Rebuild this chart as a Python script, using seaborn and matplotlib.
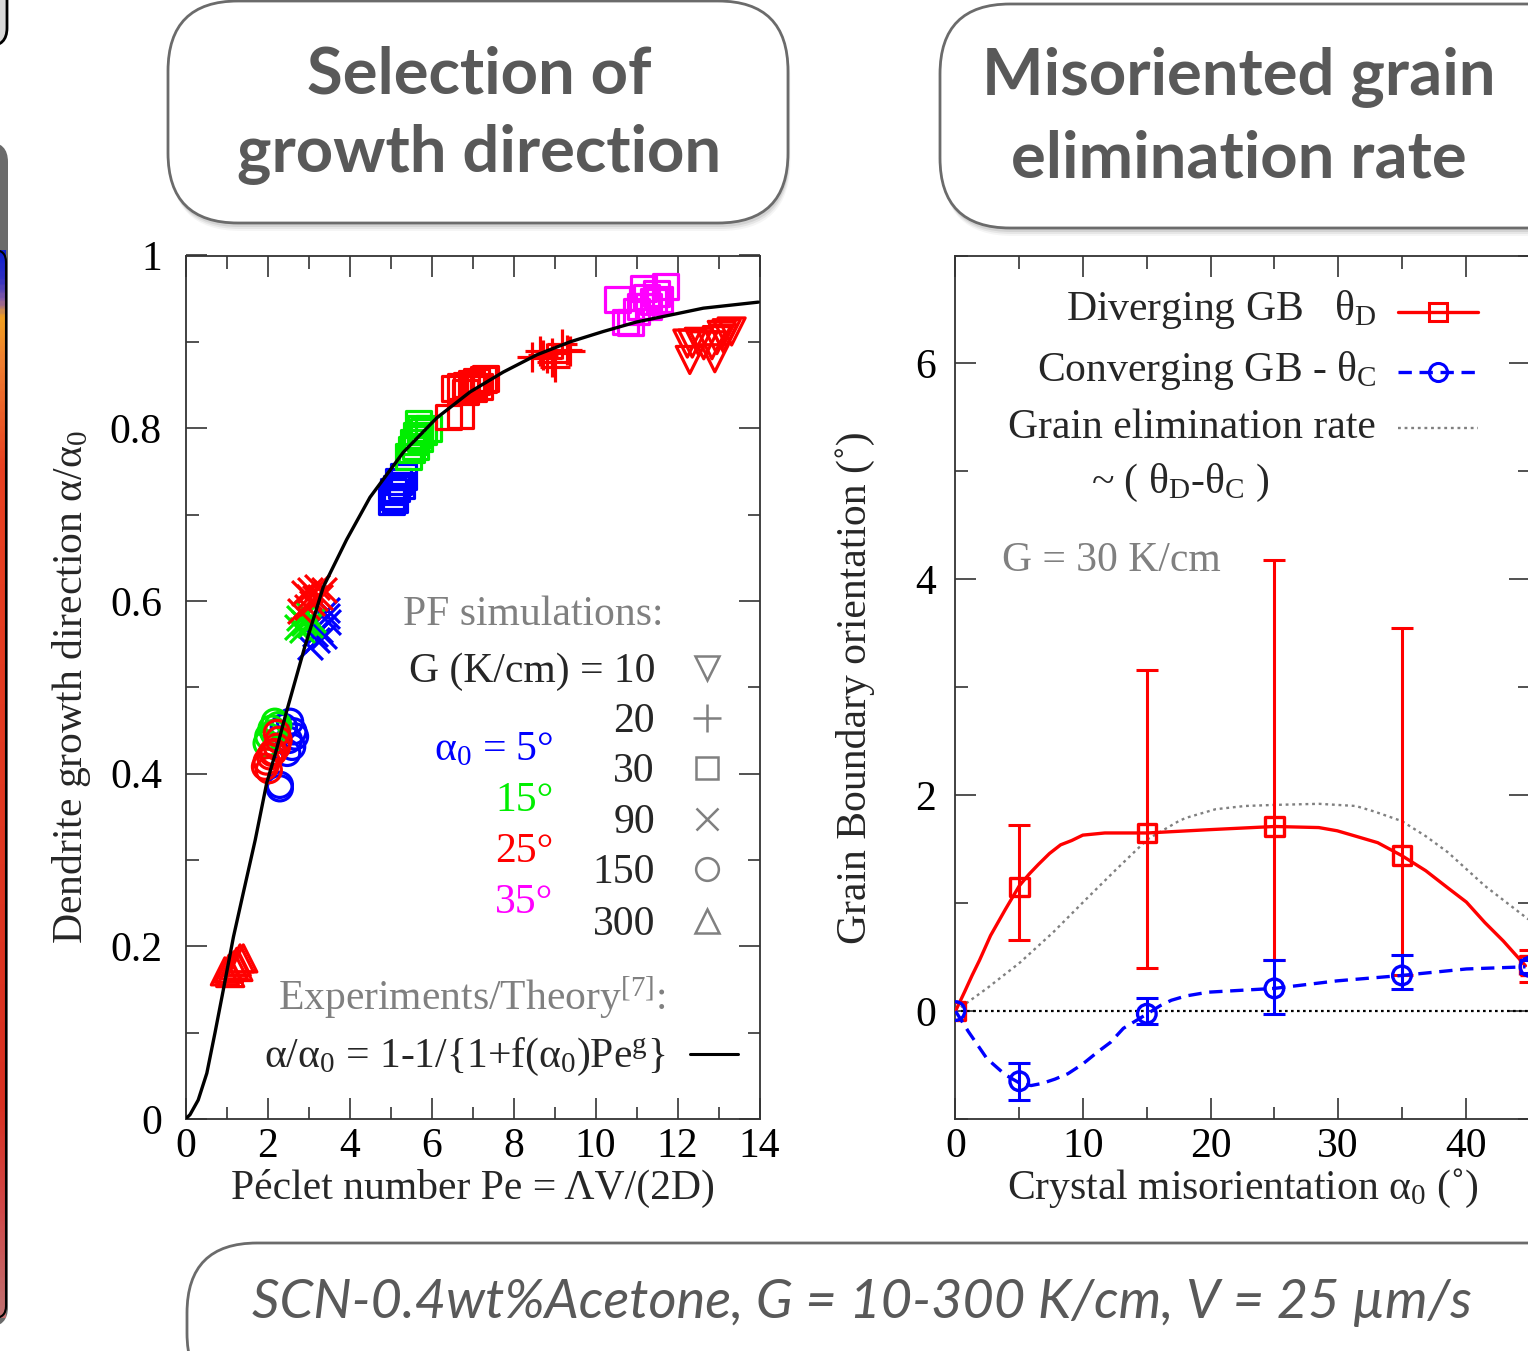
import matplotlib
matplotlib.use("Agg")
import numpy as np
import pandas as pd
import matplotlib.pyplot as plt
import seaborn as sns
from matplotlib.patches import FancyBboxPatch
from matplotlib.ticker import MultipleLocator, FuncFormatter
from matplotlib.colors import LinearSegmentedColormap

sns.set_theme(style="ticks")
plt.rcParams['font.family'] = ['Liberation Serif', 'DejaVu Serif']
plt.rcParams['mathtext.fontset'] = 'custom'
plt.rcParams['mathtext.rm'] = 'Liberation Serif'
plt.rcParams['mathtext.it'] = 'Liberation Serif:italic'
plt.rcParams['mathtext.bf'] = 'Liberation Serif:bold'
plt.rcParams['axes.unicode_minus'] = False

# ---- left panel: PF simulations, Pe vs alpha/alpha0 (one pair of lists per G / alpha0)
pe_300_25 = [1.06, 1.18, 1.25, 1.33, 1.41, 1.09, 0.96, 1.29]
r_300_25 = [0.174, 0.178, 0.182, 0.186, 0.186, 0.169, 0.171, 0.176]
pe_150_5 = [2.30, 2.30, 2.55, 2.63, 2.60, 2.48, 2.67, 2.40, 2.52]
r_150_5 = [0.387, 0.383, 0.460, 0.449, 0.431, 0.424, 0.443, 0.454, 0.439]
pe_150_15 = [2.18, 2.10, 2.02, 1.98, 2.26, 2.15]
r_150_15 = [0.460, 0.452, 0.443, 0.435, 0.456, 0.447]
pe_150_25 = [1.94, 1.98, 2.06, 2.15, 2.23, 2.27, 2.23, 2.03, 2.11]
r_150_25 = [0.408, 0.414, 0.420, 0.425, 0.431, 0.439, 0.447, 0.404, 0.424]
pe_90_5 = [3.44, 3.48, 3.28, 3.20, 3.04, 3.37, 3.16, 3.44]
r_90_5 = [0.589, 0.576, 0.566, 0.555, 0.547, 0.559, 0.562, 0.582]
pe_90_15 = [2.76, 2.89, 2.84, 3.04, 2.96, 2.71, 3.12]
r_90_15 = [0.580, 0.574, 0.566, 0.572, 0.586, 0.570, 0.578]
pe_90_25 = [2.89, 3.04, 3.20, 3.28, 3.08, 2.96, 2.79, 3.37, 3.16, 3.01]
r_90_25 = [0.609, 0.613, 0.616, 0.605, 0.597, 0.593, 0.588, 0.613, 0.603, 0.605]
pe_30_5 = [5.02, 5.04, 5.07, 5.15, 5.27, 5.31, 5.19, 5.11]
r_30_5 = [0.715, 0.721, 0.727, 0.730, 0.734, 0.744, 0.738, 0.717]
pe_30_15 = [5.69, 5.72, 5.64, 5.56, 5.52, 5.44, 5.80, 5.93, 5.60, 5.72]
r_30_15 = [0.806, 0.800, 0.792, 0.784, 0.775, 0.767, 0.796, 0.800, 0.779, 0.788]
pe_30_25 = [6.42, 6.70, 6.70, 6.86, 6.98, 7.10, 7.27, 7.31, 6.82, 7.02, 7.18, 6.57]
r_30_25 = [0.813, 0.815, 0.848, 0.850, 0.852, 0.854, 0.856, 0.858, 0.842, 0.846, 0.848, 0.846]
pe_30_35 = [10.53, 10.73, 10.85, 11.09, 11.17, 11.25, 11.41, 11.49, 11.70, 11.57, 11.30, 11.01]
r_30_35 = [0.949, 0.923, 0.922, 0.941, 0.962, 0.952, 0.947, 0.956, 0.964, 0.949, 0.941, 0.935]
pe_20_25 = [8.45, 8.65, 8.81, 8.94, 9.01, 9.18, 9.30, 9.38, 8.73, 8.94]
r_20_25 = [0.883, 0.889, 0.881, 0.877, 0.871, 0.898, 0.891, 0.889, 0.885, 0.887]
pe_10_25 = [12.30, 12.36, 12.52, 12.64, 12.91, 12.96, 13.08, 13.20, 13.32, 12.84, 12.24, 13.12]
r_10_25 = [0.879, 0.898, 0.900, 0.896, 0.881, 0.902, 0.908, 0.910, 0.912, 0.896, 0.898, 0.904]

# theory curve
theory_pe = [0, 0.11, 0.31, 0.52, 0.72, 0.92, 1.17, 1.41, 1.70, 1.98, 2.22, 2.43, 2.91, 3.36,
             3.93, 4.50, 5.31, 6.13, 6.94, 7.75, 8.57, 9.38, 10.19, 11.0, 11.82, 12.63, 13.97]
theory_ratio = [0, 0.005, 0.022, 0.053, 0.10, 0.149, 0.211, 0.262, 0.323, 0.389, 0.428, 0.466, 0.547, 0.616,
                0.671, 0.720, 0.772, 0.812, 0.842, 0.865, 0.885, 0.900, 0.912, 0.923, 0.931, 0.939, 0.946]

g_levels = [10, 20, 30, 90, 150, 300]
g_markers = {10: 'v', 20: '+', 30: 's', 90: 'x', 150: 'o', 300: '^'}
g_sizes = {10: 380, 20: 480, 30: 320, 90: 320, 150: 330, 300: 380}
alpha_levels = [5, 15, 25, 35]
alpha_colors = {5: '#0000ff', 15: '#00ee00', 25: '#ff0000', 35: '#ff00ff'}

# ---- right panel: grain boundary orientation vs misorientation (G = 30 K/cm)
misorientation = [0, 5, 15, 25, 35, 45]
theta_d = [0, 1.15, 1.65, 1.71, 1.44, 0.42]
theta_d_low = [0, 0.66, 0.40, 0.47, 0.33, 0.27]
theta_d_high = [0, 1.72, 3.16, 4.18, 3.55, 0.57]
theta_c = [0, -0.65, -0.025, 0.21, 0.33, 0.41]
theta_c_low = [0, -0.82, -0.12, -0.03, 0.20, 0.35]
theta_c_high = [0, -0.48, 0.12, 0.47, 0.52, 0.47]

# smoothed curves
curve_d_x = [0, 0.72, 1.30, 1.88, 2.75, 3.90, 5.0, 5.78, 6.51, 7.37, 8.24, 9.11, 9.98, 11.71, 13.2, 15.04,
             19.81, 25.01, 28.48, 29.93, 31.38, 33.1, 34.99, 36.87, 38.61, 40.05, 41.50, 42.94, 44.68]
curve_d_y = [0, 0.18, 0.33, 0.47, 0.70, 0.94, 1.16, 1.27, 1.36, 1.46, 1.54, 1.58, 1.63, 1.65, 1.65, 1.65,
             1.68, 1.71, 1.70, 1.67, 1.62, 1.56, 1.44, 1.30, 1.14, 1.01, 0.82, 0.65, 0.42]
curve_c_x = [0, 1.01, 2.46, 3.61, 3.90, 5.06, 5.93, 6.80, 7.81, 8.82, 9.98, 11.13, 12.15, 13.16, 14.0, 15.04,
             16.05, 16.92, 18.07, 19.81, 25.01, 29.93, 34.99, 40.05, 44.68]
curve_c_y = [0, -0.19, -0.44, -0.56, -0.59, -0.67, -0.69, -0.67, -0.63, -0.58, -0.49, -0.38, -0.29, -0.16, -0.10,
             -0.025, 0.05, 0.10, 0.14, 0.175, 0.21, 0.28, 0.33, 0.39, 0.41]
rate_x = [0, 2.46, 5.06, 7.66, 10.27, 12.58, 15.04, 17.50, 18.07, 20.39, 22.7, 25.01, 28.48, 31.38, 32.8,
          34.99, 36.87, 38.61, 41.50, 44.91]
rate_y = [0, 0.21, 0.45, 0.73, 1.04, 1.31, 1.59, 1.76, 1.79, 1.87, 1.90, 1.91, 1.92, 1.90, 1.85,
          1.76, 1.62, 1.47, 1.16, 0.85]

groups = [(pe_300_25, r_300_25, 300, 25), (pe_150_5, r_150_5, 150, 5), (pe_150_15, r_150_15, 150, 15),
          (pe_150_25, r_150_25, 150, 25), (pe_90_5, r_90_5, 90, 5), (pe_90_15, r_90_15, 90, 15),
          (pe_90_25, r_90_25, 90, 25), (pe_30_5, r_30_5, 30, 5), (pe_30_15, r_30_15, 30, 15),
          (pe_30_25, r_30_25, 30, 25), (pe_30_35, r_30_35, 30, 35), (pe_20_25, r_20_25, 20, 25),
          (pe_10_25, r_10_25, 10, 25)]
df = pd.concat([pd.DataFrame({'Pe': p, 'ratio': r, 'G': g, 'alpha0': a}) for p, r, g, a in groups],
               ignore_index=True)

W, H = 1528, 1351
fig = plt.figure(figsize=(W / 100, H / 100), dpi=100)

# background layer in pixel coordinates for the poster boxes
bg = fig.add_axes([0, 0, 1, 1], zorder=0)
bg.set_xlim(0, W)
bg.set_ylim(H, 0)
bg.axis('off')


def poster_box(x, y, w, h, r=70):
    style = f"round,pad=0,rounding_size={r}"
    for k, a in [(8, 0.04), (6, 0.06), (4, 0.08)]:
        bg.add_patch(FancyBboxPatch((x + k * 0.3, y + k), w, h, boxstyle=style, fc='black', ec='none', alpha=a))
    bg.add_patch(FancyBboxPatch((x, y), w, h, boxstyle=style, fc='white', ec='#6b6b6b', lw=2))


poster_box(168, 1, 620, 222)
poster_box(940, 4, 660, 224)
poster_box(187, 1243, 1420, 160)

title_kw = dict(ha='center', va='baseline', fontsize=47, family=['Lato', 'DejaVu Sans'],
                weight='bold', color='#595959')
bg.text(479, 93, "Selection of", **title_kw)
bg.text(479, 172, "growth direction", **title_kw)
bg.text(1239, 95, "Misoriented grain", **title_kw)
bg.text(1239, 177, "elimination rate", **title_kw)
bg.text(862, 1318, "SCN-0.4wt%Acetone, G = 10-300 K/cm, V = 25 µm/s", ha='center', va='baseline',
        fontsize=39, family=['Lato', 'DejaVu Sans'], style='italic', color='#595959')

# strip of a neighbouring panel at the left edge
bg.add_patch(FancyBboxPatch((-60, -60), 67, 106, boxstyle="round,pad=0,rounding_size=18",
                            fc='#d9d9d9', ec='black', lw=2))
bg.add_patch(FancyBboxPatch((-60, 142), 68, 1185, boxstyle="round,pad=0,rounding_size=20",
                            fc='#6b6b6b', ec='none'))
strip_cmap = LinearSegmentedColormap.from_list(
    'strip', [(0, '#1020d0'), (0.025, '#3030c0'), (0.045, '#9060a0'), (0.06, '#f0a020'), (0.1, '#f08030'),
              (0.2, '#e84020'), (0.8, '#d83020'), (0.9, '#d04848'), (1.0, '#c07070')])
bg.imshow(np.linspace(0, 1, 400).reshape(-1, 1), cmap=strip_cmap, aspect='auto',
          extent=[-2, 6, 1318, 250], zorder=2)
bg.add_patch(FancyBboxPatch((-60, 250), 66, 1068, boxstyle="round,pad=0,rounding_size=12",
                            fc='none', ec='black', lw=1.5, zorder=3))

ax1 = fig.add_axes([185.5 / W, 1 - 1119 / H, 574 / W, 863.5 / H], zorder=2)
ax2 = fig.add_axes([955.5 / W, 1 - 1119 / H, 574 / W, 863.5 / H], zorder=2)

fmt = FuncFormatter(lambda v, p: f'{v:g}')
for ax in (ax1, ax2):
    ax.set_facecolor('white')
    for s in ax.spines.values():
        s.set_color('#333333')
        s.set_linewidth(1.3)
    ax.tick_params(which='both', direction='in', top=True, right=True, color='#333333',
                   width=1.2, labelsize=30, labelcolor='black')
    ax.tick_params(which='major', length=15)
    ax.tick_params(which='minor', length=9)
    ax.xaxis.set_major_formatter(fmt)
    ax.yaxis.set_major_formatter(fmt)
    ax.grid(False)

# ---------------- left panel
for (g, a), sub in df.groupby(['G', 'alpha0']):
    m = g_markers[g]
    c = alpha_colors[a]
    kw = dict(color=c, linewidth=2.3)
    if m in ('s', 'o', 'v', '^'):
        kw.update(facecolor='none', edgecolor=c)
    sns.scatterplot(data=sub, x='Pe', y='ratio', marker=m, s=g_sizes[g], ax=ax1, legend=False, zorder=4, **kw)
sns.lineplot(x=theory_pe, y=theory_ratio, color='black', lw=2.4, ax=ax1, estimator=None, sort=False, zorder=5)

ax1.set_xlim(0, 14)
ax1.set_ylim(0, 1)
ax1.xaxis.set_major_locator(MultipleLocator(2))
ax1.xaxis.set_minor_locator(MultipleLocator(1))
ax1.yaxis.set_major_locator(MultipleLocator(0.2))
ax1.yaxis.set_minor_locator(MultipleLocator(0.1))
ax1.tick_params(axis='x', pad=6)
ax1.tick_params(axis='y', pad=17)
ax1.set_xlabel("Péclet number Pe = ΛV/(2D)", fontsize=30, va='center')
ax1.xaxis.set_label_coords(0.5, -0.080)
ax1.set_ylabel("Dendrite growth direction α/α$_0$", fontsize=30, va='center')
ax1.yaxis.set_label_coords(-0.198, 0.5)

# hand-built key, gnuplot style
ax1.text(0.832, 0.584, "PF simulations:", transform=ax1.transAxes, ha='right', va='center', fontsize=30, color='#808080')
key_y = [0.518, 0.460, 0.402, 0.343, 0.285, 0.225]
for i, (g, yy) in enumerate(zip(g_levels, key_y)):
    label = f"G (K/cm) = {g}" if i == 0 else f"{g}"
    ax1.text(0.818, yy, label, transform=ax1.transAxes, ha='right', va='center', fontsize=30)
    m = g_markers[g]
    ax1.plot([0.909], [yy + 0.004], marker=m, ms=np.sqrt(g_sizes[g]) * 0.9, color='#808080', mfc='none', mew=1.8,
             transform=ax1.transAxes, clip_on=False, ls='none')
alpha_y = [0.427, 0.369, 0.309, 0.250]
for i, (a, yy) in enumerate(zip(alpha_levels, alpha_y)):
    label = f"α$_0$ = {a}°" if i == 0 else f"{a}°"
    ax1.text(0.641, yy, label, transform=ax1.transAxes, ha='right', va='center', fontsize=30,
             color=alpha_colors[a])
ax1.text(0.837, 0.140, "Experiments/Theory$^{[7]}$:", transform=ax1.transAxes, ha='right', va='center',
         fontsize=30, color='#808080')
ax1.text(0.837, 0.072, "α/α$_0$ = 1-1/{1+f(α$_0$)Pe$^\\mathrm{g}$}", transform=ax1.transAxes, ha='right',
         va='center', fontsize=30)
ax1.plot([0.879, 0.963], [0.075, 0.075], color='black', lw=2.2, transform=ax1.transAxes)

# ---------------- right panel
ax2.axhline(0, color='black', lw=1.6, ls=(0, (1.2, 1.5)), zorder=1)
sns.lineplot(x=rate_x, y=rate_y, color='#808080', lw=1.7, ls=(0, (1.2, 1.6)), ax=ax2,
             estimator=None, sort=False, zorder=2)
sns.lineplot(x=curve_d_x, y=curve_d_y, color='red', lw=2.4, ax=ax2, estimator=None, sort=False, zorder=3)
td = np.array(theta_d)
ax2.errorbar(misorientation[1:], td[1:], yerr=[td[1:] - np.array(theta_d_low[1:]), np.array(theta_d_high[1:]) - td[1:]],
             fmt='none', ecolor='red', elinewidth=2.2, capsize=8, capthick=2.2, zorder=3)
sns.scatterplot(x=misorientation, y=theta_d, marker='s', s=180, color='red', facecolor='none', edgecolor='red',
                linewidth=2.4, ax=ax2, legend=False, zorder=4)
sns.lineplot(x=curve_c_x, y=curve_c_y, color='blue', lw=2.4, ls=(0, (4, 2.3)), ax=ax2,
             estimator=None, sort=False, zorder=5)
tc = np.array(theta_c)
ax2.errorbar(misorientation[1:], tc[1:], yerr=[tc[1:] - np.array(theta_c_low[1:]), np.array(theta_c_high[1:]) - tc[1:]],
             fmt='none', ecolor='blue', elinewidth=2.2, capsize=8, capthick=2.2, zorder=5)
sns.scatterplot(x=misorientation, y=theta_c, marker='o', s=180, color='blue', facecolor='none', edgecolor='blue',
                linewidth=2.4, ax=ax2, legend=False, zorder=6)

ax2.set_xlim(0, 45)
ax2.set_ylim(-1, 7)
ax2.xaxis.set_major_locator(MultipleLocator(10))
ax2.xaxis.set_minor_locator(MultipleLocator(5))
ax2.yaxis.set_major_locator(MultipleLocator(2))
ax2.yaxis.set_minor_locator(MultipleLocator(1))
ax2.tick_params(axis='x', pad=6)
ax2.tick_params(axis='y', pad=14)
ax2.set_xlabel("Crystal misorientation α$_0$ (˚)", fontsize=30, va='center')
ax2.xaxis.set_label_coords(0.5, -0.080)
ax2.set_ylabel("Grain Boundary orientation (˚)", fontsize=30, va='center')
ax2.yaxis.set_label_coords(-0.175, 0.5)

ax2.text(0.733, 0.937, "Diverging GB   θ$_\\mathrm{D}$", transform=ax2.transAxes, ha='right', va='center', fontsize=30)
ax2.text(0.733, 0.867, "Converging GB - θ$_\\mathrm{C}$", transform=ax2.transAxes, ha='right', va='center', fontsize=30)
ax2.text(0.733, 0.801, "Grain elimination rate", transform=ax2.transAxes, ha='right', va='center', fontsize=30)
ax2.text(0.391, 0.737, "~ ( θ$_\\mathrm{D}$-θ$_\\mathrm{C}$ )", transform=ax2.transAxes, ha='center', va='center', fontsize=30)
ax2.text(0.081, 0.647, "G = 30 K/cm", transform=ax2.transAxes, ha='left', va='center', fontsize=30, color='#808080')
ax2.plot([0.771, 0.910], [0.935, 0.935], color='red', lw=2.4, transform=ax2.transAxes)
ax2.plot([0.840], [0.935], marker='s', ms=13, mfc='none', mec='red', mew=2.2, transform=ax2.transAxes)
ax2.plot([0.771, 0.910], [0.865, 0.865], color='blue', lw=2.4, ls=(0, (4, 2.3)), transform=ax2.transAxes)
ax2.plot([0.840], [0.865], marker='o', ms=13, mfc='none', mec='blue', mew=2.2, transform=ax2.transAxes)
ax2.plot([0.771, 0.910], [0.800, 0.800], color='#808080', lw=1.7, ls=(0, (1.2, 1.6)), transform=ax2.transAxes)

fig.savefig("out.png", dpi=100)
